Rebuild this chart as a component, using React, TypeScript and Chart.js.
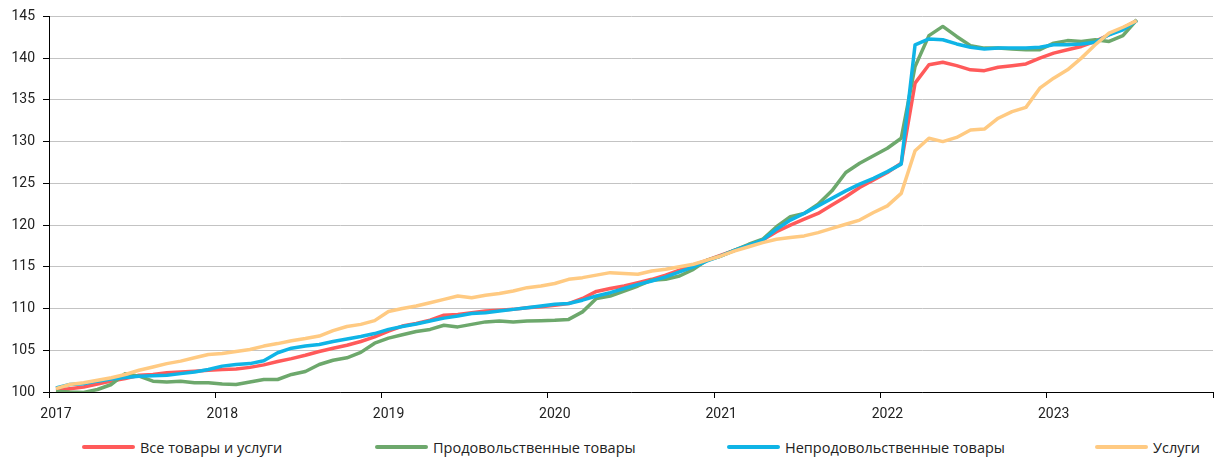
import React, { useEffect, useRef } from "react";
import { Chart, registerables } from "chart.js";

Chart.register(...registerables);

const startYear = 2017;
const endYear = 2024;
const yearTicks = [2017, 2018, 2019, 2020, 2021, 2022, 2023];
const yTicks = [100, 105, 110, 115, 120, 125, 130, 135, 140, 145];

const seriesNames = [
  "Все товары и услуги",
  "Продовольственные товары",
  "Непродовольственные товары",
  "Услуги",
];

// Monthly index values, Jan 2017 .. Jul 2023 (Jan 2017 ≈ 100)
const allGoods = [
  100.2, 100.4, 100.6, 100.95, 101.3, 101.6, 102.0, 102.1, 102.3, 102.4, 102.5, 102.6,
  102.7, 102.75, 102.95, 103.25, 103.65, 104.0, 104.4, 104.85, 105.25, 105.6, 106.05, 106.6,
  107.3, 107.9, 108.2, 108.6, 109.2, 109.3, 109.5, 109.7, 109.8, 109.9, 110.1, 110.2,
  110.4, 110.6, 111.2, 112.05, 112.4, 112.7, 113.1, 113.5, 114.0, 114.6, 115.2, 115.8,
  116.4, 117.0, 117.6, 118.2, 119.2, 120.0, 120.7, 121.4, 122.4, 123.4, 124.5, 125.4,
  126.3, 127.4, 137.0, 139.2, 139.5, 139.1, 138.6, 138.5, 138.9, 139.1, 139.3, 140.0,
  140.6, 141.0, 141.4, 142.0, 142.8, 143.6, 144.5,
];

const food = [
  100.1, 100.0, 99.95, 100.3, 100.9, 102.2, 101.9, 101.3, 101.2, 101.3, 101.1, 101.1,
  100.95, 100.9, 101.2, 101.5, 101.5, 102.1, 102.45, 103.3, 103.8, 104.1, 104.75, 105.85,
  106.45, 106.85, 107.25, 107.5, 108.0, 107.8, 108.1, 108.4, 108.5, 108.4, 108.5, 108.55,
  108.6, 108.7, 109.6, 111.2, 111.5, 112.1, 112.7, 113.4, 113.5, 113.9, 114.7, 115.8,
  116.3, 117.0, 117.7, 118.3, 119.8, 121.0, 121.4, 122.5, 124.1, 126.3, 127.4, 128.3,
  129.2, 130.4, 139.0, 142.7, 143.8, 142.6, 141.5, 141.2, 141.2, 141.1, 141.0, 141.0,
  141.8, 142.1, 142.0, 142.2, 142.0, 142.7, 144.6,
];

const nonFood = [
  100.5, 100.9, 101.0, 101.3, 101.55, 101.75, 101.9, 101.95, 102.0, 102.2, 102.4, 102.7,
  103.1, 103.3, 103.4, 103.75, 104.7, 105.25, 105.5, 105.7, 106.05, 106.35, 106.65, 107.0,
  107.5, 107.85, 108.15, 108.5, 108.85, 109.1, 109.4, 109.5, 109.7, 109.9, 110.1, 110.3,
  110.5, 110.6, 111.0, 111.5, 111.9, 112.4, 112.9, 113.3, 113.8, 114.4, 115.0, 115.7,
  116.3, 117.0, 117.6, 118.2, 119.5, 120.6, 121.4, 122.3, 123.2, 124.1, 124.9, 125.6,
  126.4, 127.3, 141.6, 142.3, 142.2, 141.7, 141.3, 141.1, 141.2, 141.2, 141.2, 141.3,
  141.6, 141.6, 141.7, 141.9, 142.8, 143.4, 144.5,
];

const services = [
  100.4, 100.9, 101.1, 101.4, 101.7, 102.1, 102.6, 103.0, 103.4, 103.7, 104.1, 104.5,
  104.6, 104.85, 105.1, 105.5, 105.8, 106.15, 106.4, 106.7, 107.35, 107.85, 108.1, 108.55,
  109.65, 110.0, 110.3, 110.7, 111.1, 111.5, 111.3, 111.6, 111.8, 112.1, 112.5, 112.7,
  113.0, 113.5, 113.7, 114.0, 114.3, 114.2, 114.1, 114.5, 114.7, 115.0, 115.3, 115.8,
  116.3, 116.9, 117.4, 117.9, 118.3, 118.5, 118.7, 119.1, 119.6, 120.1, 120.6, 121.5,
  122.3, 123.8, 128.9, 130.4, 130.0, 130.5, 131.4, 131.5, 132.8, 133.6, 134.1, 136.4,
  137.6, 138.6, 140.0, 141.6, 143.0, 143.7, 144.5,
];

const seriesColors = ["#FF5A5A", "#6DA86C", "#0FB4E6", "#FFCA82"];
const FONT = "Roboto, 'Noto Sans', sans-serif";
const LEGEND_FONT = "'Open Sans', Roboto, sans-serif";

// month i is plotted at mid-month on a year scale
const toPoints = (vals: number[]) =>
  vals.map((v, i) => ({ x: startYear + (i + 0.5) / 12, y: v }));

const CANVAS_W = 1221;
const CANVAS_H = 432;
const PLOT_LEFT = 49;
const PLOT_BOTTOM = 392;

export default function App() {
  const canvasRef = useRef<HTMLCanvasElement | null>(null);

  useEffect(() => {
    if (!canvasRef.current) return;
    const seriesData = [allGoods, food, nonFood, services];
    const chart = new Chart(canvasRef.current, {
      type: "line",
      data: {
        datasets: seriesData.map((vals, i) => ({
          label: seriesNames[i],
          data: toPoints(vals),
          borderColor: seriesColors[i],
          backgroundColor: seriesColors[i],
          borderWidth: 3.5,
          pointRadius: 0,
          tension: 0,
          fill: false,
          borderJoinStyle: "round" as const,
          order: 3 - i,
        })),
      },
      options: {
        animation: false,
        responsive: false,
        devicePixelRatio: 1,
        events: [],
        layout: { padding: { left: 0, right: 0, top: 15, bottom: 0 } },
        plugins: {
          legend: { display: false },
          tooltip: { enabled: false },
        },
        scales: {
          x: {
            type: "linear",
            min: startYear,
            max: endYear,
            afterBuildTicks: (scale: any) => {
              scale.ticks = [...yearTicks, endYear].map((v) => ({ value: v }));
            },
            afterFit: (scale: any) => {
              scale.height = CANVAS_H - PLOT_BOTTOM;
            },
            ticks: {
              autoSkip: false,
              maxRotation: 0,
              labelOffset: 7,
              padding: 8,
              color: "#222",
              font: { family: FONT, size: 14 },
              callback: (v: any) => (yearTicks.includes(Number(v)) ? String(v) : ""),
            },
            grid: {
              drawOnChartArea: false,
              drawTicks: true,
              tickLength: 6,
              tickColor: "#000",
            },
            border: { color: "#000", width: 1 },
          },
          y: {
            type: "linear",
            min: 100,
            max: 145,
            afterBuildTicks: (scale: any) => {
              scale.ticks = yTicks.map((v) => ({ value: v }));
            },
            afterFit: (scale: any) => {
              scale.width = PLOT_LEFT;
            },
            ticks: {
              padding: 8,
              color: "#222",
              font: { family: FONT, size: 14 },
            },
            grid: {
              color: "#C3C3C3",
              lineWidth: 1,
              drawTicks: true,
              tickLength: 6,
              tickColor: "#000",
            },
            border: { color: "#000", width: 1 },
          },
        },
      },
    } as any);
    return () => chart.destroy();
  }, []);

  const legendLefts = [82, 375, 727, 1095];

  return (
    <div
      style={{
        position: "absolute",
        left: 0,
        top: 0,
        width: CANVAS_W,
        height: 457,
        background: "#fff",
        overflow: "hidden",
      }}
    >
      <canvas
        ref={canvasRef}
        width={CANVAS_W}
        height={CANVAS_H}
        style={{ display: "block", width: CANVAS_W, height: CANVAS_H }}
      />
      {seriesNames.map((name, i) => (
        <div
          key={name}
          style={{
            position: "absolute",
            left: legendLefts[i],
            top: 437,
            height: 20,
            display: "flex",
            alignItems: "center",
            fontFamily: LEGEND_FONT,
            fontSize: 14.5,
            color: "#222",
            whiteSpace: "nowrap",
          }}
        >
          <span
            style={{
              display: "inline-block",
              width: 53,
              height: 4,
              borderRadius: 2,
              background: seriesColors[i],
              marginRight: 5,
            }}
          />
          <span>{name}</span>
        </div>
      ))}
    </div>
  );
}
